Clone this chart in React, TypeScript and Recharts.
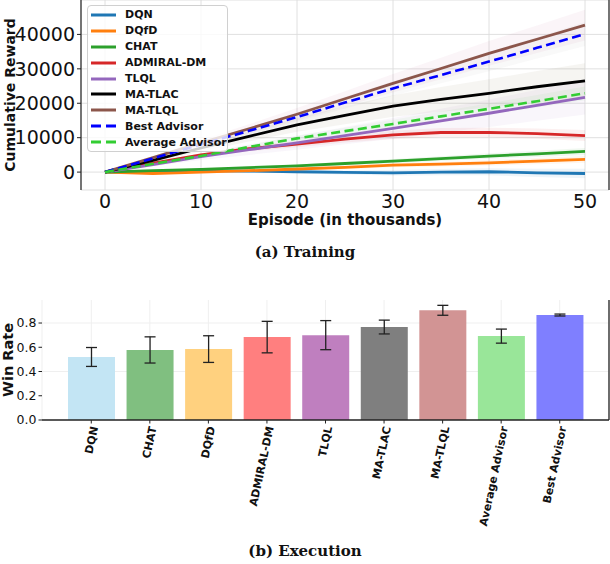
import React from "react";
import { ComposedChart, Line, Area, XAxis, YAxis, CartesianGrid, BarChart, Bar, ErrorBar, Cell, Label } from "recharts";

// episode (in thousands)
const episodes = [0, 5, 10, 15, 20, 25, 30, 35, 40, 45, 50];

// cumulative reward
const dqn = [0, 200, 400, 300, 100, -100, -200, 0, 100, -200, -400];
const dqfd = [0, -400, 0, 400, 900, 1400, 2000, 2300, 2700, 3200, 3700];
const chat = [0, 400, 800, 1300, 1800, 2500, 3200, 3900, 4650, 5300, 6000];
const admiral = [0, 2600, 5000, 6800, 8100, 9600, 10800, 11500, 11500, 11200, 10600];
const tlql = [0, 2200, 4500, 6500, 8500, 10600, 12700, 14900, 17100, 19400, 21700];
const maTlac = [0, 3400, 7000, 10400, 13700, 16500, 19200, 21100, 22900, 24800, 26500];
const maTlql = [0, 4200, 8500, 12600, 16800, 21300, 25800, 30100, 34500, 38600, 42700];
const bestAdv = [0, 4000, 8000, 12000, 16000, 20200, 24300, 28200, 32100, 36100, 40100];
const avgAdv = [0, 2400, 4700, 7300, 9800, 11900, 14000, 16200, 18400, 20600, 22900];

// half width of the shaded bands
const dqnSpread = [0, 200, 300, 400, 500, 600, 800, 900, 1000, 1200, 1400];
const dqfdSpread = [0, 100, 200, 300, 400, 500, 600, 700, 800, 900, 1000];
const chatSpread = [0, 100, 200, 300, 400, 500, 600, 700, 800, 900, 1000];
const admiralSpread = [0, 300, 500, 700, 900, 1000, 1200, 1300, 1400, 1500, 1600];
const tlqlSpread = [0, 500, 1000, 1500, 2000, 2500, 3000, 3500, 4000, 4500, 5000];
const maTlacSpread = [0, 500, 1000, 1500, 2000, 2600, 3100, 3600, 4100, 4600, 5100];
const maTlqlSpread = [0, 400, 900, 1300, 1800, 2200, 2700, 3100, 3600, 4000, 4500];
const bestSpread = [0, 300, 700, 1000, 1400, 1700, 2100, 2400, 2800, 3100, 3500];
const avgSpread = [0, 200, 400, 600, 800, 1000, 1200, 1400, 1600, 1800, 2000];

const xTicks = [0, 10, 20, 30, 40, 50];
const yTicks = [0, 10000, 20000, 30000, 40000];

const series = [
  { key: "dqn", name: "DQN", color: "#1f77b4", values: dqn, spread: dqnSpread, dash: false, band: 0.08 },
  { key: "dqfd", name: "DQfD", color: "#ff7f0e", values: dqfd, spread: dqfdSpread, dash: false, band: 0.07 },
  { key: "chat", name: "CHAT", color: "#2ca02c", values: chat, spread: chatSpread, dash: false, band: 0.07 },
  { key: "admiral", name: "ADMIRAL-DM", color: "#d62728", values: admiral, spread: admiralSpread, dash: false, band: 0.07 },
  { key: "tlql", name: "TLQL", color: "#9467bd", values: tlql, spread: tlqlSpread, dash: false, band: 0.06 },
  { key: "matlac", name: "MA-TLAC", color: "#8a7a5a", values: maTlac, spread: maTlacSpread, dash: false, band: 0.08, line: "#000000" },
  { key: "matlql", name: "MA-TLQL", color: "#c05a8a", values: maTlql, spread: maTlqlSpread, dash: false, band: 0.06, line: "#8c564b" },
  { key: "best", name: "Best Advisor", color: "#888888", values: bestAdv, spread: bestSpread, dash: true, band: 0.05, line: "#0000ff" },
  { key: "avg", name: "Average Advisor", color: "#32cd32", values: avgAdv, spread: avgSpread, dash: true, band: 0.05 },
];

const trainData = episodes.map((ep, i) => {
  const row: any = { ep };
  series.forEach((s) => {
    row[s.key] = s.values[i];
    row[s.key + "Band"] = [s.values[i] - s.spread[i], s.values[i] + s.spread[i]];
  });
  return row;
});

// execution win rates
const methods = ["DQN", "CHAT", "DQfD", "ADMIRAL-DM", "TLQL", "MA-TLAC", "MA-TLQL", "Average Advisor", "Best Advisor"];
const winRate = [0.52, 0.578, 0.585, 0.684, 0.70, 0.767, 0.905, 0.692, 0.866];
const winErr = [0.078, 0.108, 0.11, 0.13, 0.12, 0.057, 0.041, 0.058, 0.008];
const barColors = ["#c3e5f4", "#80bf80", "#ffd17f", "#ff7f7f", "#bf7fbf", "#7f7f7f", "#d29494", "#99e699", "#7f7fff"];

const execData = methods.map((m, i) => ({ method: m, rate: winRate[i], err: winErr[i] }));

const tickFont = "DejaVu Sans";

function YTitle({ text, x, y, size }: { text: string; x: number; y: number; size: number }) {
  return (
    <text x={x} y={y} transform={`rotate(-90, ${x}, ${y})`} textAnchor="middle" dominantBaseline="central"
      fontFamily={tickFont} fontWeight="bold" fontSize={size} fill="#111">
      {text}
    </text>
  );
}

function RotTick(props: any) {
  const { x, y, payload } = props;
  return (
    <text x={0} y={0} transform={`translate(${x + 3},${y + 1}) rotate(-78)`} textAnchor="end" dy="0.35em"
      fontSize={11} fontWeight="bold" fontFamily={tickFont} fill="#111">
      {payload.value}
    </text>
  );
}

function LegendBox() {
  return (
    <div style={{ position: "absolute", left: 87, top: 5, width: 141, height: 147, border: "1px solid #d0d0d0", borderRadius: 4, background: "rgba(255,255,255,0.8)", boxSizing: "border-box", paddingTop: 1 }}>
      {series.map((s) => (
        <div key={s.key} style={{ height: 15.9, display: "flex", alignItems: "center" }}>
          <svg width={34} height={6} style={{ marginLeft: 3 }}>
            <line x1={0} y1={3} x2={25} y2={3} stroke={s.line || s.color} strokeWidth={3} strokeDasharray={s.dash ? "10 5" : undefined} />
          </svg>
          <span style={{ fontFamily: tickFont, fontWeight: "bold", fontSize: 11, color: "#111", whiteSpace: "nowrap" }}>{s.name}</span>
        </div>
      ))}
    </div>
  );
}

const captionStyle: React.CSSProperties = {
  position: "absolute", left: 0, width: 610, textAlign: "center", fontFamily: "DejaVu Serif", fontWeight: "bold", fontSize: 15, lineHeight: "20px", color: "#111",
};

export default function App() {
  return (
    <div style={{ position: "absolute", left: 0, top: 0, width: 610, height: 564, background: "#fff", overflow: "hidden" }}>
      <div style={{ position: "absolute", left: 0, top: 0 }}>
        <ComposedChart width={610} height={232} data={trainData} margin={{ top: 0, right: 0, bottom: 0, left: 0 }}>
          <CartesianGrid stroke="#dcdcdc" strokeWidth={0.9} />
          <XAxis dataKey="ep" type="number" domain={[-2.5, 52.5]} ticks={xTicks} axisLine={false} tickLine={false}
            tickSize={4} tickMargin={1} height={42} tick={{ fontSize: 19, fill: "#111", fontFamily: tickFont }}>
            <Label content={() => (
              <text x={345} y={220} textAnchor="middle" dominantBaseline="central" fontFamily={tickFont} fontWeight="bold" fontSize={15} fill="#111">
                Episode (in thousands)
              </text>
            )} />
          </XAxis>
          <YAxis type="number" domain={[-5200, 50000]} ticks={yTicks} width={81} axisLine={{ stroke: "#222", strokeWidth: 1.2 }}
            tickLine={{ stroke: "#222" }} tickSize={4} tickMargin={2} tick={{ fontSize: 19, fill: "#111", fontFamily: tickFont }}>
            <Label content={() => <YTitle text="Cumulative Reward" x={10} y={95} size={14} />} />
          </YAxis>
          <YAxis yAxisId="r" orientation="right" width={1} domain={[0, 1]} tick={false} tickLine={false} axisLine={{ stroke: "#222", strokeWidth: 1.2 }} />
          {series.map((s) => (
            <Area key={s.key + "Band"} type="linear" dataKey={s.key + "Band"} stroke="none" fill={s.color} fillOpacity={s.band} isAnimationActive={false} />
          ))}
          {series.map((s) => (
            <Line key={s.key} type="linear" dataKey={s.key} name={s.name} stroke={s.line || s.color} strokeWidth={s.dash ? 2.6 : 2.8}
              strokeDasharray={s.dash ? "9 4.5" : undefined} dot={false} isAnimationActive={false} />
          ))}
        </ComposedChart>
      </div>
      <LegendBox />
      <div style={{ ...captionStyle, top: 242 }}>(a) Training</div>

      <div style={{ position: "absolute", left: 0, top: 290 }}>
        <BarChart width={610} height={250} data={execData} margin={{ top: 10, right: 0, bottom: 0, left: 0 }}>
          <CartesianGrid stroke="#efefef" horizontalValues={[0.4, 0.8]} />
          <XAxis dataKey="method" type="category" padding={{ left: 20, right: 20 }} height={120} interval={0}
            axisLine={{ stroke: "#222", strokeWidth: 1.3 }} tickLine={{ stroke: "#222" }} tickSize={3.5} tickMargin={2} tick={<RotTick />} />
          <YAxis type="number" domain={[0, 0.99]} ticks={[0, 0.2, 0.4, 0.6, 0.8]} width={42} axisLine={false}
            tickLine={{ stroke: "#222" }} tickSize={3.5} tickMargin={2} tickFormatter={(v: number) => v.toFixed(1)}
            tick={{ fontSize: 12.5, fill: "#111", fontFamily: tickFont }}>
            <Label content={() => <YTitle text="Win Rate" x={8} y={70} size={14.5} />} />
          </YAxis>
          <YAxis yAxisId="r" orientation="right" width={1} domain={[0, 1]} tick={false} tickLine={false} axisLine={{ stroke: "#222", strokeWidth: 1.3 }} />
          <Bar dataKey="rate" barSize={47} isAnimationActive={false}>
            {execData.map((d, i) => (
              <Cell key={d.method} fill={barColors[i]} />
            ))}
            <ErrorBar dataKey="err" width={5.5} stroke="#222" strokeWidth={1.3} />
          </Bar>
        </BarChart>
      </div>
      <div style={{ ...captionStyle, top: 541 }}>(b) Execution</div>
    </div>
  );
}
